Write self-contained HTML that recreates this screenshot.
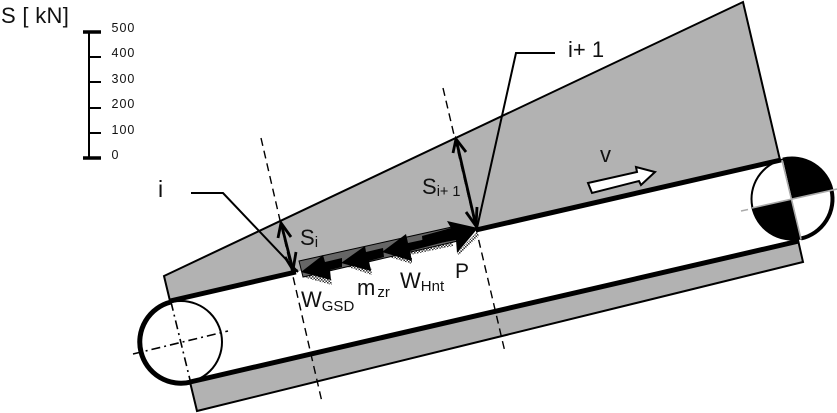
<!DOCTYPE html>
<html><head><meta charset="utf-8"><style>
html,body{margin:0;padding:0;background:#fff;width:837px;height:413px;overflow:hidden}
svg{display:block;filter:blur(.35px)}
text{font-family:"Liberation Sans",sans-serif;fill:#111}
</style></head><body>
<svg width="837" height="413" viewBox="0 0 837 413" xmlns="http://www.w3.org/2000/svg">
<defs>
<pattern id="st" width="3" height="3" patternUnits="userSpaceOnUse">
<rect width="3" height="3" fill="#fff"/><rect width="1.5" height="1.5" fill="#333"/><rect x="1.5" y="1.5" width="1.5" height="1.5" fill="#333"/>
</pattern>
</defs>
<!-- gray areas -->
<polygon points="164,276 743,2 780,160 170,301" fill="#b2b2b2"/>
<polyline points="170,301 164,276 743,2 780,160" fill="none" stroke="#000" stroke-width="2"/>
<polygon points="190,382 197,411 803,262 798,240" fill="#b2b2b2" stroke="#000" stroke-width="2"/>
<!-- left pulley -->
<circle cx="181" cy="342" r="41" fill="#fff" stroke="#000" stroke-width="2"/>
<path d="M171,302 A41,41 0 0 0 191,382" fill="none" stroke="#000" stroke-width="5"/>
<g stroke="#000" stroke-width="1.6" fill="none" stroke-dasharray="9,4,2,4">
<line x1="133" y1="354" x2="228" y2="331"/>
<line x1="171" y1="302" x2="191" y2="384"/>
</g>
<!-- right pulley -->
<circle cx="792" cy="199" r="40.5" fill="#fff" stroke="#000" stroke-width="2"/>
<g transform="rotate(-13 792 199)">
<path d="M792,199 L792,158.500 A40.500,40.500 0 0 1 832.500,199 Z" fill="#000"/>
<path d="M792,199 L792,239.500 A40.500,40.500 0 0 1 751.500,199 Z" fill="#000"/>
<path d="M792,158.500 A40.500,40.500 0 0 1 792,239.500" fill="none" stroke="#000" stroke-width="4"/>
</g>
<g stroke="#aaa" stroke-width="1.6" fill="none">
<line x1="752" y1="208" x2="837" y2="189"/>
<line x1="741" y1="211" x2="748" y2="209.500"/>
<line x1="782" y1="160" x2="801" y2="239"/>
</g>
<!-- belts -->
<line x1="170" y1="301" x2="298" y2="271.500" stroke="#000" stroke-width="5"/>
<line x1="476" y1="230" x2="781" y2="160" stroke="#000" stroke-width="5"/>
<line x1="190" y1="382" x2="799" y2="241" stroke="#000" stroke-width="5"/>
<!-- white gap below the band -->
<polygon points="298,274 478,233 480,240 300,290" fill="#fff"/>
<!-- dashed section lines -->
<g stroke="#000" stroke-width="1.4" fill="none" stroke-dasharray="8,5">
<line x1="261" y1="138" x2="322" y2="402"/>
<line x1="443" y1="88" x2="505" y2="352"/>
</g>
<polygon points="296,272 302,272 303,282 298,284" fill="#fff"/>
<!-- load band -->
<polygon points="303,277 332,285 331,278 304,273" fill="url(#st)"/>
<polygon points="342,265 372,275 371,267 345,261" fill="url(#st)"/>
<polygon points="383,255 412,264 412,257 384,250" fill="url(#st)"/>
<polygon points="410,250 453,241 453,246 410,255" fill="url(#st)"/>
<polygon points="457,253 477,232 479,236 459,255" fill="url(#st)"/>
<polygon points="299,261 452,227 458,241 303,277" fill="#666" stroke="#000" stroke-width="1"/>
<!-- black force arrows and shafts -->
<g fill="#000">
<polygon points="301,272 323,255 325,262 342,258 342,267 330,270 331,280"/>
<polygon points="341,263 365,246 366,252 383,248 384,257 369,261 371,271"/>
<polygon points="382,252 406,234 408,243 422,240 450,233 452,240 410,251 412,261"/>
<polygon points="478,228 447,221 451,228 422,236 423,246 456,240 457,253"/>
</g>
<!-- leaders -->
<polyline points="191,193 223,193 298,272" fill="none" stroke="#000" stroke-width="2"/>
<polyline points="555,53 516,53 477,228" fill="none" stroke="#000" stroke-width="2"/>
<!-- S arrows -->
<g fill="none" stroke="#000" stroke-width="2.8">
<line x1="281" y1="223" x2="293" y2="270"/>
<polyline points="278,238 281,223 291,237"/>
<polyline points="285,257 293,270 296,252"/>
<line x1="456" y1="139" x2="476" y2="226"/>
<polyline points="453,153 456,139 466,152"/>
<polyline points="466,212 476,226 477,207"/>
</g>
<!-- v arrow -->
<polygon points="588,183 637,172 636,167 655,172 641,185 639,181 592,193" fill="#fff" stroke="#000" stroke-width="2"/>
<!-- scale -->
<g stroke="#000" fill="none">
<line x1="89" y1="32" x2="89" y2="158" stroke-width="2"/>
<line x1="83" y1="32" x2="101" y2="32" stroke-width="3.4"/>
<line x1="83" y1="158" x2="101" y2="158" stroke-width="3.4"/>
<line x1="89" y1="57" x2="101" y2="57" stroke-width="2"/>
<line x1="89" y1="82" x2="101" y2="82" stroke-width="2"/>
<line x1="89" y1="108" x2="101" y2="108" stroke-width="2"/>
<line x1="89" y1="133" x2="101" y2="133" stroke-width="2"/>
</g>
<g font-size="12.5" letter-spacing="1">
<text x="111.500" y="32">500</text>
<text x="111.500" y="57">400</text>
<text x="111.500" y="83">300</text>
<text x="111.500" y="108">200</text>
<text x="111.500" y="134">100</text>
<text x="111.500" y="159">0</text>
</g>
<text x="1" y="23" font-size="22" letter-spacing=".3">S [ kN]</text>
<text x="158" y="197" font-size="23">i</text>
<text x="568" y="57" font-size="22">i+ 1</text>
<text x="600" y="162" font-size="22">v</text>
<text x="300" y="245" font-size="22">S<tspan font-size="15" dy="2">i</tspan></text>
<text x="422" y="194" font-size="22">S<tspan font-size="14.500" dy="2">i+ 1</tspan></text>
<text x="301" y="307" font-size="22">W<tspan font-size="15" dy="4">GSD</tspan></text>
<text x="357" y="295" font-size="22">m<tspan font-size="15" dy="2" dx="2">zr</tspan></text>
<text x="400" y="288" font-size="22">W<tspan font-size="15" dy="3">Hnt</tspan></text>
<text x="455" y="278" font-size="21">P</text>
</svg>
</body></html>
